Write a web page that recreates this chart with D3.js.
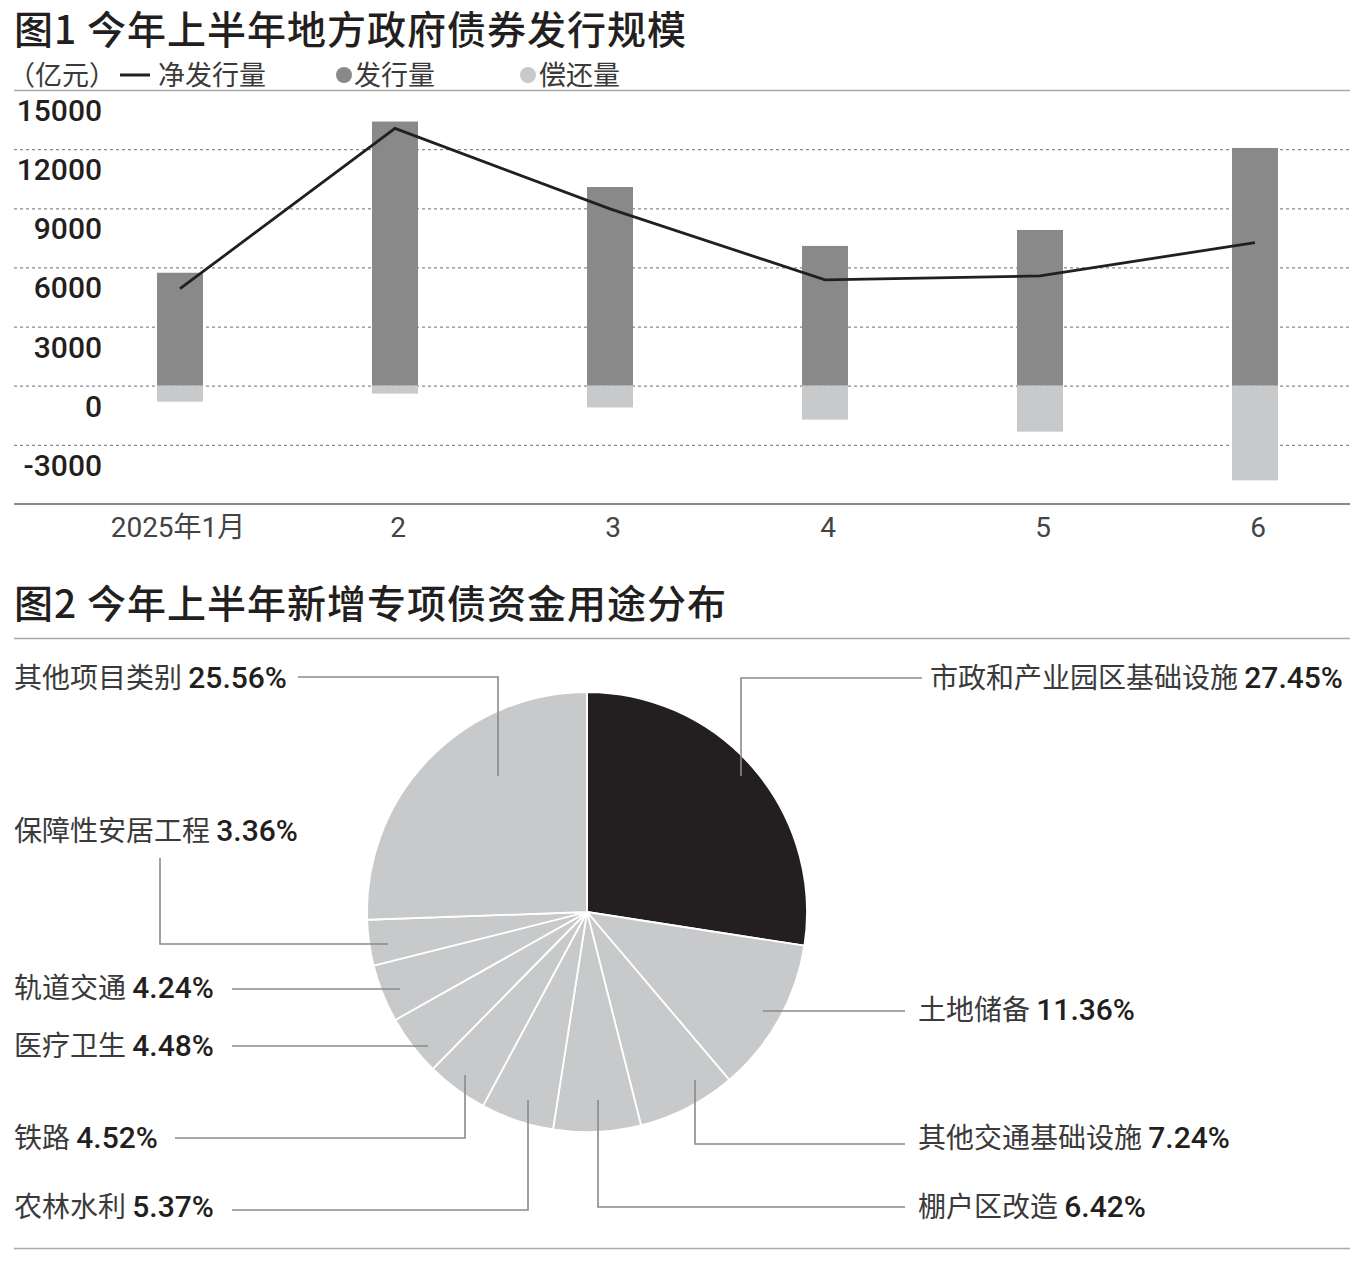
<!DOCTYPE html>
<html>
<head>
<meta charset="utf-8">
<script src="https://cdn.jsdelivr.net/npm/d3@7/dist/d3.min.js"></script>
<style>
  html, body { margin: 0; padding: 0; background: #fff; }
  svg { display: block; }
  text { font-family: "Noto Sans CJK SC", "Noto Sans", sans-serif; }
  .num { font-family: Roboto, "Noto Sans CJK SC", sans-serif; }
</style>
</head>
<body>
<svg id="chart" width="1356" height="1272"></svg>
<script>
// ---------- Data: Figure 1 ----------
const months = ["2025年1月", "2", "3", "4", "5", "6"];
const issuance = [5730, 13400, 10080, 7090, 7900, 12060];     // 发行量
const repayment = [-810, -400, -1100, -1720, -2330, -4800];   // 偿还量
const netIssuance = [4920, 13050, 8970, 5370, 5570, 7260];    // 净发行量
const yTicks = [-3000, 0, 3000, 6000, 9000, 12000, 15000];

// ---------- Data: Figure 2 ----------
const useNames = ["市政和产业园区基础设施", "土地储备", "其他交通基础设施", "棚户区改造", "农林水利",
                  "铁路", "医疗卫生", "轨道交通", "保障性安居工程", "其他项目类别"];
const useShares = [27.45, 11.36, 7.24, 6.42, 5.37, 4.52, 4.48, 4.24, 3.36, 25.56];

// ---------- Layout ----------
const ink = "#231f20";
const barDark = "#898989";
const barLight = "#c8c9ca";
const svg = d3.select("#chart");

// Titles
svg.append("text").attr("x", 14).attr("y", 44)
  .attr("font-size", 39).attr("font-weight", 500).attr("letter-spacing", 1).attr("fill", ink)
  .text("图1 今年上半年地方政府债券发行规模");

// Legend
const lg = svg.append("g").attr("font-size", 27).attr("fill", "#3a3a3a");
lg.append("text").attr("x", 8).attr("y", 85).text("（亿元）");
lg.append("line").attr("x1", 120).attr("x2", 150).attr("y1", 75).attr("y2", 75)
  .attr("stroke", ink).attr("stroke-width", 3);
lg.append("text").attr("x", 158).attr("y", 85).text("净发行量");
lg.append("circle").attr("cx", 344).attr("cy", 75).attr("r", 8).attr("fill", barDark);
lg.append("text").attr("x", 354).attr("y", 85).text("发行量");
lg.append("circle").attr("cx", 528).attr("cy", 75).attr("r", 8).attr("fill", barLight);
lg.append("text").attr("x", 539).attr("y", 85).text("偿还量");

svg.append("line").attr("x1", 14).attr("x2", 1350).attr("y1", 90.5).attr("y2", 90.5)
  .attr("stroke", "#aaa").attr("stroke-width", 1.5);

// Scales
const x = d3.scaleBand().domain(months).range([72.5, 1362.5])
  .paddingInner(0.786).paddingOuter(0.393);
const y = d3.scaleLinear().domain([-6000, 15000]).range([504, 90]);

// Gridlines
svg.append("g").selectAll("line").data(yTicks.filter(t => t < 15000)).join("line")
  .attr("x1", 14).attr("x2", 1350)
  .attr("y1", d => y(d) + 0.5).attr("y2", d => y(d) + 0.5)
  .attr("stroke", "#8a8a8a").attr("stroke-width", 1.3).attr("stroke-dasharray", "3,3");

// Y labels
svg.append("g").selectAll("text").data(yTicks).join("text")
  .attr("class", "num")
  .attr("x", 102).attr("y", d => y(d) + 31)
  .attr("text-anchor", "end").attr("font-size", 30).attr("font-weight", 500).attr("fill", ink)
  .text(d => d);

// Bars
svg.append("g").selectAll("rect").data(months).join("rect")
  .attr("x", d => x(d)).attr("width", x.bandwidth())
  .attr("y", (d, i) => y(issuance[i])).attr("height", (d, i) => y(0) - y(issuance[i]))
  .attr("fill", barDark);
svg.append("g").selectAll("rect").data(months).join("rect")
  .attr("x", d => x(d)).attr("width", x.bandwidth())
  .attr("y", y(0)).attr("height", (d, i) => y(repayment[i]) - y(0))
  .attr("fill", barLight);

// Net line
const line = d3.line()
  .x((d, i) => x(months[i]) + x.bandwidth() / 2)
  .y(d => y(d));
svg.append("path").datum(netIssuance).attr("d", line)
  .attr("fill", "none").attr("stroke", ink).attr("stroke-width", 2.8);

// Bottom axis
svg.append("line").attr("x1", 14).attr("x2", 1350).attr("y1", 504).attr("y2", 504)
  .attr("stroke", "#8a8a8a").attr("stroke-width", 2);
svg.append("g").selectAll("text").data(months).join("text")
  .attr("class", "num")
  .attr("x", (d, i) => x(d) + x.bandwidth() / 2 + (i === 0 ? -2 : 3)).attr("y", 537)
  .attr("text-anchor", "middle").attr("font-size", 28).attr("fill", "#444")
  .text(d => d);

// ---------- Figure 2 ----------
svg.append("text").attr("x", 14).attr("y", 618)
  .attr("font-size", 39).attr("font-weight", 500).attr("letter-spacing", 1).attr("fill", ink)
  .text("图2 今年上半年新增专项债资金用途分布");
svg.append("line").attr("x1", 14).attr("x2", 1350).attr("y1", 638.5).attr("y2", 638.5)
  .attr("stroke", "#aaa").attr("stroke-width", 1.5);
svg.append("line").attr("x1", 14).attr("x2", 1350).attr("y1", 1248.5).attr("y2", 1248.5)
  .attr("stroke", "#aaa").attr("stroke-width", 1.5);

const cx = 587, cy = 912, R = 220;
const pie = d3.pie().sort(null).value(d => d)(useShares);
const arc = d3.arc().innerRadius(0).outerRadius(R);
const pg = svg.append("g").attr("transform", `translate(${cx},${cy})`);
pg.selectAll("path").data(pie).join("path")
  .attr("d", arc)
  .attr("fill", (d, i) => i === 0 ? ink : barLight)
  .attr("stroke", "#fff").attr("stroke-width", 1.8).attr("stroke-linejoin", "round");

// Leader lines & labels (layout)
const leaderPaths = [
  "M741,776V678H922",
  "M763,1011H905",
  "M695,1080V1144H905",
  "M598,1100V1207H905",
  "M528,1100V1210H232",
  "M465,1075V1138H175",
  "M428,1046H232",
  "M400,989H232",
  "M388,944H160V858",
  "M498,776V677H298"
];
const labelPos = [
  [930, 678], [918, 1010], [918, 1138], [918, 1207],
  [14, 1207], [14, 1138], [14, 1046], [14, 988],
  [14, 831], [14, 678]
];
svg.append("g").selectAll("path").data(leaderPaths).join("path")
  .attr("d", d => d).attr("fill", "none").attr("stroke", "#8a8a8a").attr("stroke-width", 1.6);

const lbl = svg.append("g").selectAll("text").data(useNames).join("text")
  .attr("x", (d, i) => labelPos[i][0]).attr("y", (d, i) => labelPos[i][1] + 10)
  .attr("font-size", 28).attr("fill", "#3a3a3a");
lbl.append("tspan").text(d => d + " ");
lbl.append("tspan").attr("class", "num").attr("font-size", 30).attr("font-weight", 500).attr("fill", ink)
  .text((d, i) => useShares[i].toFixed(2) + "%");
</script>
</body>
</html>
